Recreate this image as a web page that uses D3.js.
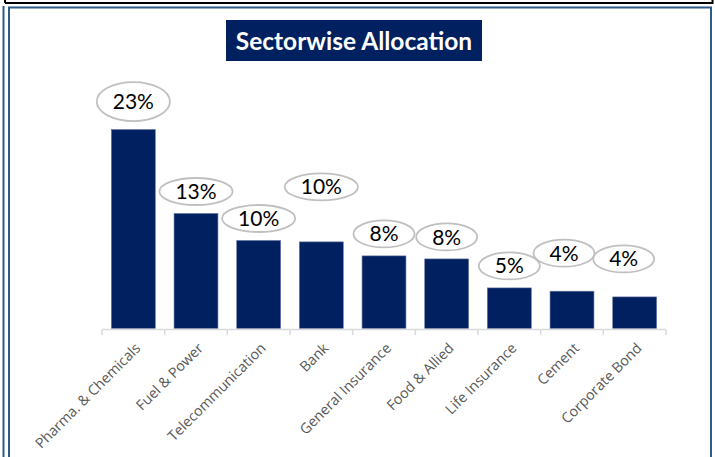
<!DOCTYPE html>
<html>
<head>
<meta charset="utf-8">
<script src="https://cdn.jsdelivr.net/npm/d3@7"></script>
<style>
  html, body { margin: 0; padding: 0; background: #ffffff; }
  svg { display: block; }
</style>
</head>
<body>
<svg id="chart" width="715" height="457"></svg>
<script>
// Sector allocation (% of portfolio)
const categories = [
  "Pharma. & Chemicals", "Fuel & Power", "Telecommunication", "Bank",
  "General Insurance", "Food & Allied", "Life Insurance", "Cement", "Corporate Bond"
];
const allocation = [22.99, 13.29, 10.17, 10.01, 8.39, 8.04, 4.69, 4.31, 3.65];
const chartTitle = "Sectorwise Allocation";

// Callout placement tweaks (pixels) for the value bubbles
const calloutLayout = {
  "Pharma. & Chemicals": { dy: -28, ry: 19.5 },
  "Bank": { dy: -55 },
  "Cement": { dx: -8, dy: -38 },
  "Corporate Bond": { dx: -11, dy: -38 }
};

const navy = "#002060";
const frameBlue = "#2f5b8c";
const svg = d3.select("#chart");

// Outer frame lines
svg.append("line").attr("x1", 5).attr("x2", 713).attr("y1", 3).attr("y2", 3)
  .attr("stroke", "#000").attr("stroke-width", 2);
svg.append("line").attr("x1", 5).attr("x2", 5).attr("y1", 0).attr("y2", 3)
  .attr("stroke", "#000").attr("stroke-width", 2);
svg.append("line").attr("x1", 712.5).attr("x2", 712.5).attr("y1", 0).attr("y2", 4)
  .attr("stroke", "#000").attr("stroke-width", 2);
svg.append("line").attr("x1", 3.5).attr("x2", 3.5).attr("y1", 6).attr("y2", 457)
  .attr("stroke", frameBlue).attr("stroke-width", 2);
svg.append("rect").attr("x", 9).attr("y", 7.5).attr("width", 702).attr("height", 470)
  .attr("fill", "none").attr("stroke", frameBlue).attr("stroke-width", 2);

// Title banner
const titleG = svg.append("g");
titleG.append("rect").attr("x", 226).attr("y", 20).attr("width", 256).attr("height", 41)
  .attr("fill", navy);
titleG.append("text").attr("x", 354).attr("y", 41).attr("dy", "0.36em")
  .attr("text-anchor", "middle")
  .attr("font-family", "Lato, 'Open Sans', sans-serif")
  .attr("font-weight", "bold").attr("font-size", 24.5).attr("fill", "#ffffff")
  .text(chartTitle);

// Scales
const x = d3.scaleBand().domain(categories).range([102, 666])
  .paddingInner(0.3).paddingOuter(0.15);
const y = d3.scaleLinear().domain([0, 25]).range([328.5, 112.2]);

// Bars
svg.append("g").selectAll("rect").data(categories).join("rect")
  .attr("x", d => x(d))
  .attr("width", x.bandwidth())
  .attr("y", (d, i) => y(allocation[i]))
  .attr("height", (d, i) => y(0) - y(allocation[i]))
  .attr("fill", navy)
  .attr("stroke", "#5d6f9c").attr("stroke-width", 0.6);

// Category axis with ticks on band edges
const axisG = svg.append("g");
axisG.append("line").attr("x1", 102).attr("x2", 666).attr("y1", 329.5).attr("y2", 329.5)
  .attr("stroke", "#d9d9d9").attr("stroke-width", 1.5);
const edges = categories.map(d => x(d) - x.step() * x.paddingInner() / 2).concat([666]);
edges[0] = 102;
axisG.selectAll("line.tick").data(edges).join("line").attr("class", "tick")
  .attr("x1", d => d).attr("x2", d => d).attr("y1", 329.5).attr("y2", 335)
  .attr("stroke", "#d9d9d9").attr("stroke-width", 1.5);
axisG.selectAll("text").data(categories).join("text")
  .attr("transform", d => `translate(${x(d) + x.bandwidth() / 2 + 1},${342}) rotate(-45)`)
  .attr("text-anchor", "end")
  .attr("dy", "0.7em")
  .attr("font-family", "'Open Sans', sans-serif")
  .attr("font-size", 14.3).attr("fill", "#595959")
  .text(d => d);

// Value callouts
const fmt = v => d3.format(".0f")(v) + "%";
const callouts = svg.append("g").selectAll("g").data(categories).join("g")
  .attr("transform", (d, i) => {
    const c = calloutLayout[d] || {};
    const cx = x(d) + x.bandwidth() / 2 + (c.dx || 0);
    const cy = y(allocation[i]) + (c.dy !== undefined ? c.dy : -22);
    return `translate(${cx},${cy})`;
  });
callouts.append("ellipse")
  .attr("fill", "#ffffff").attr("stroke", "#c0c0c0").attr("stroke-width", 1.8);
const labels = callouts.append("text")
  .attr("text-anchor", "middle").attr("dy", "0.36em")
  .attr("font-family", "Lato, 'Open Sans', sans-serif")
  .attr("font-size", 21).attr("fill", "#000000")
  .text((d, i) => fmt(allocation[i]));
labels.each(function (d) {
  const w = this.getComputedTextLength();
  const c = calloutLayout[d] || {};
  d3.select(this.parentNode).select("ellipse")
    .attr("rx", Math.max(w / 2 + 16, 30))
    .attr("ry", c.ry || 13.5);
});
</script>
</body>
</html>
